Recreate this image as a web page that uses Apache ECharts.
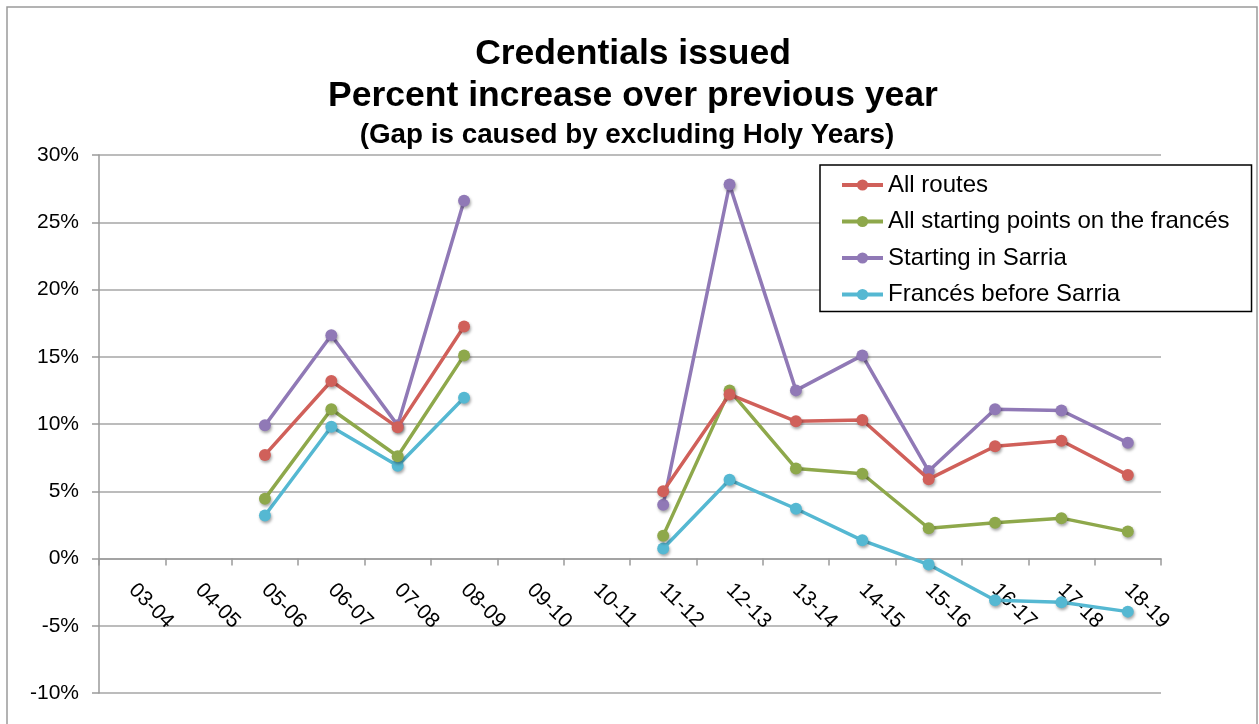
<!DOCTYPE html>
<html>
<head>
<meta charset="utf-8">
<script src="https://cdn.jsdelivr.net/npm/echarts@6/dist/echarts.min.js"></script>
<style>
html,body{margin:0;padding:0;background:#fff;}
#chart{width:1259px;height:724px;}
</style>
</head>
<body>
<div id="chart"></div>
<script>
var categories = ['03-04','04-05','05-06','06-07','07-08','08-09','09-10','10-11','11-12','12-13','13-14','14-15','15-16','16-17','17-18','18-19'];
var allRoutes = [null,null,7.7,13.2,9.75,17.25,null,null,5.0,12.2,10.2,10.3,5.9,8.35,8.75,6.2];
var francesAll = [null,null,4.45,11.1,7.6,15.1,null,null,1.7,12.5,6.7,6.3,2.25,2.65,3.0,2.0];
var sarria = [null,null,9.9,16.6,9.9,26.6,null,null,4.0,27.8,12.5,15.1,6.5,11.1,11.0,8.6];
var beforeSarria = [null,null,3.2,9.8,6.9,11.95,null,null,0.75,5.85,3.7,1.35,-0.45,-3.1,-3.25,-3.95];
var seriesNames = ['All routes','All starting points on the francés','Starting in Sarria','Francés before Sarria'];
var yTicks = {min:-10, max:30, step:5};

var FONT = '"Liberation Sans", Arial, sans-serif';
var colors = ['#D0605A','#8EA84B','#9079B6','#55B8D2'];
var dataSets = [allRoutes, francesAll, sarria, beforeSarria];

var chart = echarts.init(document.getElementById('chart'));

function mkSeries(i){
  return {
    name: seriesNames[i],
    type: 'line',
    data: dataSets[i],
    connectNulls: false,
    symbol: 'circle',
    symbolSize: 12,
    lineStyle: {width: 3.5, color: colors[i]},
    itemStyle: {color: colors[i], shadowBlur: 3, shadowColor: 'rgba(0,0,0,0.35)', shadowOffsetX: 1, shadowOffsetY: 2},
    emphasis: {disabled: true},
    z: 3 + (3 - i)
  };
}

var option = {
  animation: false,
  color: colors,
  textStyle: {fontFamily: FONT},
  title: [
    {text: 'Credentials issued', left: 628, top: 31, textAlign: 'center',
     textStyle: {fontFamily: FONT, fontSize: 35.5, fontWeight: 'bold', color: '#000'}},
    {text: 'Percent increase over previous year', left: 628, top: 73, textAlign: 'center',
     textStyle: {fontFamily: FONT, fontSize: 35.5, fontWeight: 'bold', color: '#000'}},
    {text: '(Gap is caused by excluding Holy Years)', left: 622, top: 116, textAlign: 'center',
     textStyle: {fontFamily: FONT, fontSize: 27.8, fontWeight: 'bold', color: '#000'}}
  ],
  graphic: [
    {type: 'rect', shape: {x: 7, y: 7, width: 1250, height: 740}, style: {fill: 'none', stroke: '#9a9a9a', lineWidth: 1.5}, silent: true, z: -10}
  ],
  legend: {
    orient: 'vertical',
    left: 820,
    top: 165,
    padding: [8, 22, 5, 20],
    itemGap: 12.5,
    itemWidth: 41,
    itemHeight: 14,
    borderColor: '#000',
    borderWidth: 1.5,
    backgroundColor: '#fff',
    lineStyle: {width: 4},
    textStyle: {fontFamily: FONT, fontSize: 24, color: '#000'},
    data: seriesNames
  },
  grid: {left: 99, right: 98, top: 155, bottom: 31, containLabel: false, outerBoundsMode: 'none'},
  xAxis: {
    type: 'category',
    data: categories,
    boundaryGap: true,
    axisLine: {onZero: true, lineStyle: {color: '#9a9a9a', width: 1.5}},
    axisTick: {show: true, alignWithLabel: false, length: 7, lineStyle: {color: '#9a9a9a', width: 1.5}},
    axisLabel: {interval: 0, rotate: -45, margin: -106, fontFamily: FONT, fontSize: 21, color: '#000'},
    splitLine: {show: false}
  },
  yAxis: {
    type: 'value',
    min: yTicks.min,
    max: yTicks.max,
    interval: yTicks.step,
    axisLine: {show: true, lineStyle: {color: '#9a9a9a', width: 1.5}},
    axisTick: {show: true, length: 7, lineStyle: {color: '#9a9a9a', width: 1.5}},
    axisLabel: {formatter: '{value}%', margin: 20, fontFamily: FONT, fontSize: 21, color: '#000'},
    splitLine: {show: true, lineStyle: {color: '#a6a6a6', width: 1.5}}
  },
  series: [mkSeries(0), mkSeries(1), mkSeries(2), mkSeries(3)]
};
chart.setOption(option);
</script>
</body>
</html>
